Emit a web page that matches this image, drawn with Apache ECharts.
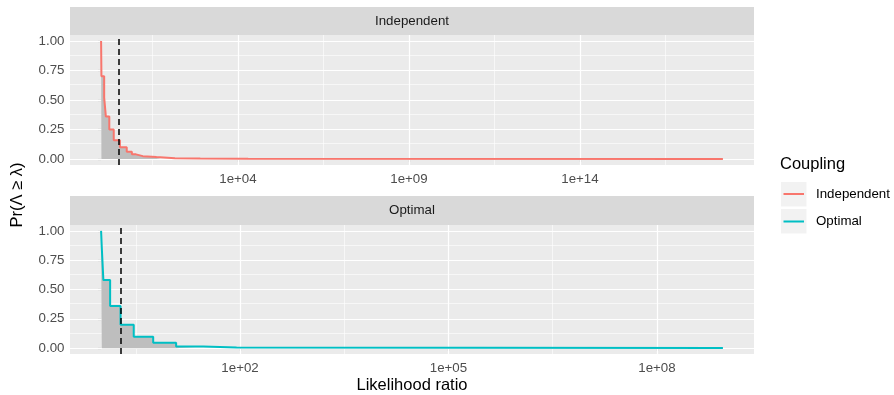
<!DOCTYPE html>
<html><head><meta charset="utf-8">
<script src="https://cdn.jsdelivr.net/npm/echarts@6/dist/echarts.min.js"></script>
<style>html,body{margin:0;padding:0;background:#fff}#c{width:894px;height:395px}</style>
</head><body><div id="c"></div>
<script>
// ---- data (x stored as log10 of the likelihood ratio) ----
const facetNames = ['Independent', 'Optimal'];
const indepLog10LR = [0, 0.01, 0.09, 0.14, 0.24, 0.37, 0.55, 0.75, 0.9, 1.02, 1.22, 1.62, 2.16, 2.9, 4.3, 18.18];
const indepProb    = [1.0, 0.70, 0.52, 0.36, 0.25, 0.16, 0.10, 0.062, 0.04, 0.025, 0.017, 0.008, 0.004, 0.002, 0.001, 0.0005];
const optLog10LR   = [0, 0.01, 0.033, 0.13, 0.28, 0.47, 0.75, 1.08, 1.47, 1.95, 8.95];
const optProb      = [1.0, 0.857, 0.58, 0.36, 0.20, 0.097, 0.045, 0.015, 0.005, 0.002, 0.001];
const indepThresholdLog10 = 0.53;
const optThresholdLog10 = 0.29;
const indepGreyMaxLog10 = 1.72;
const optGreyMaxLog10 = 1.47;
const indepTicks = [4, 9, 14];
const indepTickLabels = ['1e+04', '1e+09', '1e+14'];
const optTicks = [2, 5, 8];
const optTickLabels = ['1e+02', '1e+05', '1e+08'];
const yTicks = [0, 0.25, 0.5, 0.75, 1];
const yTickLabels = ['0.00', '0.25', '0.50', '0.75', '1.00'];
const yMinor = [0.125, 0.375, 0.625, 0.875];
const colors = ['#F8766D', '#00BFC4'];

const FONT = "'Liberation Sans', Arial, Helvetica, sans-serif";
const AX = 13.3, TITLE = 16.5;
const facets = [
  {xs: indepLog10LR, ps: indepProb, thr: indepThresholdLog10, greyMax: indepGreyMaxLog10, ticks: indepTicks, labels: indepTickLabels, top: 35, height: 130},
  {xs: optLog10LR, ps: optProb, thr: optThresholdLog10, greyMax: optGreyMaxLog10, ticks: optTicks, labels: optTickLabels, top: 225, height: 129}
];

const grids = [], xAxes = [], yAxes = [], series = [];
facets.forEach((f, i) => {
  const lo = Math.min(...f.xs), hi = Math.max(...f.xs);
  const span = hi - lo;
  const xmin = lo - 0.05 * span, xmax = hi + 0.05 * span;
  grids.push({left: 70, width: 684, top: f.top, height: f.height, show: true, backgroundColor: '#EBEBEB', borderWidth: 0});
  xAxes.push({
    type: 'value', gridIndex: i, min: xmin, max: xmax,
    axisLine: {show: false},
    axisTick: {show: true, length: 3.7, lineStyle: {color: '#333333', width: 1.07}, customValues: f.ticks},
    axisLabel: {customValues: f.ticks, margin: 7.5, color: '#4D4D4D', fontSize: AX, fontFamily: FONT,
      formatter: v => { const k = f.ticks.findIndex(t => Math.abs(t - v) < 1e-9); return k >= 0 ? f.labels[k] : ''; }},
    splitLine: {show: false}
  });
  yAxes.push({
    type: 'value', gridIndex: i, min: -0.05, max: 1.05,
    axisLine: {show: false},
    axisTick: {show: true, length: 3.7, lineStyle: {color: '#333333', width: 1.07}, customValues: yTicks},
    axisLabel: {customValues: yTicks, margin: 5.5, color: '#4D4D4D', fontSize: AX, fontFamily: FONT,
      formatter: v => { const k = yTicks.findIndex(t => Math.abs(t - v) < 1e-9); return k >= 0 ? yTickLabels[k] : ''; }},
    splitLine: {show: false}
  });
  // gridlines
  const sp = f.ticks[1] - f.ticks[0];
  const minors = [];
  for (let t = f.ticks[0] - sp; t <= xmax + sp; t += sp) {
    const m = t + sp / 2;
    if (m > xmin && m < xmax) minors.push(m);
  }
  const gl = [];
  minors.forEach(m => gl.push({xAxis: m, lineStyle: {width: 0.6}}));
  yMinor.forEach(m => gl.push({yAxis: m, lineStyle: {width: 0.6}}));
  f.ticks.forEach(t => gl.push({xAxis: t, lineStyle: {width: 1.2}}));
  yTicks.forEach(t => gl.push({yAxis: t, lineStyle: {width: 1.2}}));
  series.push({
    type: 'line', xAxisIndex: i, yAxisIndex: i, data: [], z: 1, silent: true,
    markLine: {z: 1, silent: true, symbol: ['none', 'none'], animation: false, label: {show: false},
      lineStyle: {color: '#FFFFFF', type: 'solid'}, emphasis: {disabled: true}, data: gl}
  });
  // grey segments region
  const pts = f.xs.map((x, k) => [x, f.ps[k]]);
  const grey = pts.filter(p => p[0] <= f.greyMax);
  grey.push([f.greyMax, grey[grey.length - 1][1]]);
  series.push({
    type: 'line', xAxisIndex: i, yAxisIndex: i, step: 'end', data: grey, showSymbol: false, z: 2, silent: true,
    lineStyle: {width: 0}, areaStyle: {color: '#BEBEBE', opacity: 1}
  });
  series.push({
    name: facetNames[i], type: 'line', xAxisIndex: i, yAxisIndex: i, step: 'end', data: pts, showSymbol: false, z: 3,
    lineStyle: {color: colors[i], width: 2}, itemStyle: {color: colors[i]},
    markLine: {z: 6, silent: true, symbol: ['none', 'none'], animation: false, label: {show: false},
      lineStyle: {color: '#000000', type: [6, 4], width: 1.5}, data: [{xAxis: f.thr}]}
  });
});

const txt = (x, y, text, size, color, align, extra) => Object.assign({
  type: 'text', x, y, silent: true,
  style: {text, fill: color, font: size + 'px ' + FONT, textAlign: align || 'center', textVerticalAlign: 'middle', align: align || 'center', verticalAlign: 'middle'}
}, extra || {});

const graphic = [
  {type: 'rect', shape: {x: 70, y: 7, width: 684, height: 28}, style: {fill: '#D9D9D9'}, silent: true},
  {type: 'rect', shape: {x: 70, y: 196, width: 684, height: 29}, style: {fill: '#D9D9D9'}, silent: true},
  txt(412, 21, facetNames[0], AX, '#1A1A1A'),
  txt(412, 210.5, facetNames[1], AX, '#1A1A1A'),
  txt(412, 385, 'Likelihood ratio', TITLE, '#000000'),
  txt(17, 195, 'Pr(Λ ≥ λ)', TITLE, '#000000', 'center', {rotation: Math.PI / 2}),
  txt(780, 164, 'Coupling', TITLE, '#000000', 'left'),
  {type: 'rect', shape: {x: 781, y: 182, width: 25.5, height: 24.5}, style: {fill: '#F2F2F2'}, silent: true},
  {type: 'rect', shape: {x: 781, y: 209, width: 25.5, height: 24.5}, style: {fill: '#F2F2F2'}, silent: true},
  {type: 'line', shape: {x1: 783.5, y1: 194, x2: 804, y2: 194}, style: {stroke: colors[0], lineWidth: 2}, silent: true},
  {type: 'line', shape: {x1: 783.5, y1: 221.5, x2: 804, y2: 221.5}, style: {stroke: colors[1], lineWidth: 2}, silent: true},
  txt(816, 194, facetNames[0], AX, '#000000', 'left'),
  txt(816, 221.5, facetNames[1], AX, '#000000', 'left')
];

const chart = echarts.init(document.getElementById('c'), null, {renderer: 'canvas'});
chart.setOption({
  animation: false,
  grid: grids, xAxis: xAxes, yAxis: yAxes, series, graphic
});
</script>
</body></html>
